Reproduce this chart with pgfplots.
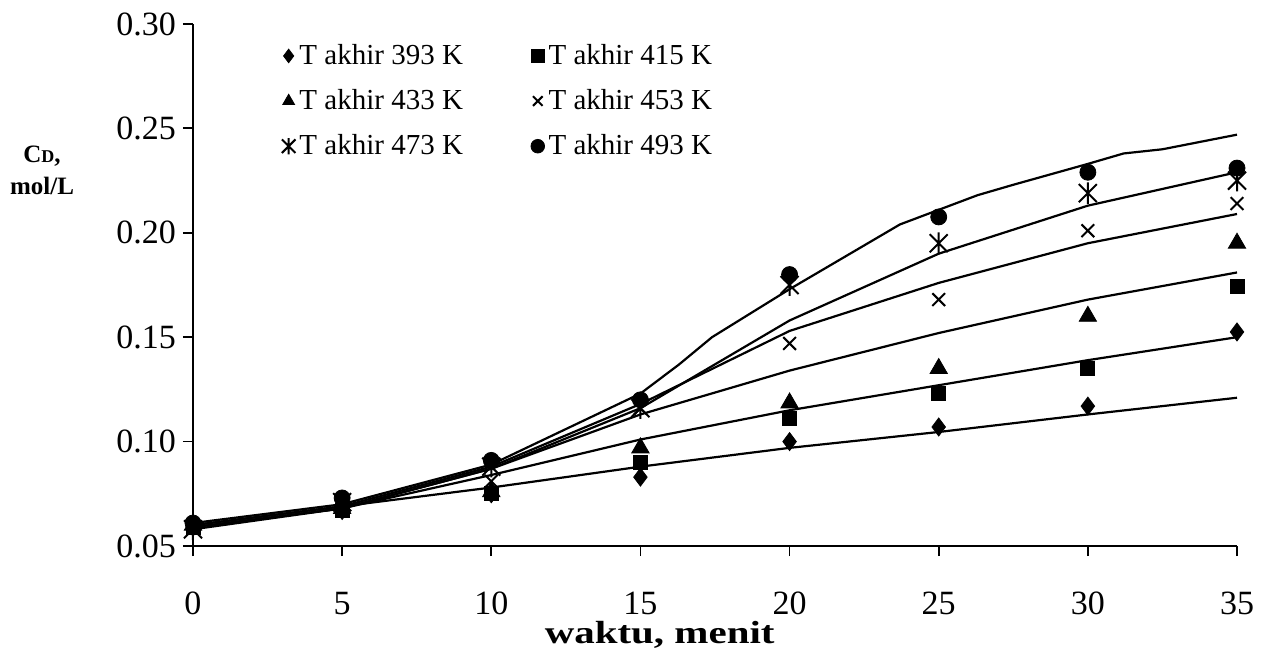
\documentclass[border=0pt]{standalone}
\usepackage{fontspec}
\setmainfont{Liberation Serif}
\usepackage{graphicx}
\usepackage{pgfplots}
\pgfplotsset{compat=1.18}
\pgfdeclareplotmark{xstar}{%
  \pgfpathmoveto{\pgfpoint{-\pgfplotmarksize}{-\pgfplotmarksize}}%
  \pgfpathlineto{\pgfpoint{\pgfplotmarksize}{\pgfplotmarksize}}%
  \pgfpathmoveto{\pgfpoint{-\pgfplotmarksize}{\pgfplotmarksize}}%
  \pgfpathlineto{\pgfpoint{\pgfplotmarksize}{-\pgfplotmarksize}}%
  \pgfpathmoveto{\pgfpoint{0pt}{-1.2\pgfplotmarksize}}%
  \pgfpathlineto{\pgfpoint{0pt}{1.2\pgfplotmarksize}}%
  \pgfusepathqstroke}
\begin{document}
\begin{tikzpicture}
\useasboundingbox (-96.5pt,-53pt) rectangle (535pt,273pt);
\begin{axis}[
  at={(0,0)}, anchor=south west,
  scale only axis, width=522pt, height=261pt,
  xmin=0, xmax=35, ymin=0.05, ymax=0.30,
  axis lines=left, axis line style={line width=1.1pt, -},
  xtick={0,5,...,35}, ytick={0.05,0.10,...,0.31},
  tick align=outside, major tick length=5pt,
  tick style={line width=0.9pt, black},
  clip=false,
  /pgf/number format/assume math mode=true,
  ticklabel style={font=\fontsize{17}{17}\selectfont},
  yticklabel style={/pgf/number format/.cd, fixed, fixed zerofill, precision=2},
  xticklabel style={yshift=-14.5pt},
  xlabel={\scalebox{1.28}[1]{\bfseries waktu, menit}},
  xlabel style={at={(axis description cs:0.447,0)}, anchor=center, yshift=-44.5pt, font=\fontsize{16}{16}\selectfont},
  legend columns=2,
  legend style={draw=none, fill=none, at={(axis description cs:0.079,0.977)}, anchor=north west,
    font=\fontsize{14.5}{14.5}\selectfont, row sep=7pt,
    /tikz/every even column/.append style={column sep=32pt}},
  legend image post style={mark size=3.4pt},
  legend cell align=left,
]
% data points
\addplot[only marks, mark=diamond*, mark size=4.5pt] coordinates {(0,0.059)(5,0.067)(10,0.075)(15,0.083)(20,0.100)(25,0.107)(30,0.117)(35,0.1525)};
\addlegendentry{T akhir 393 K}
\addplot[only marks, mark=square*, mark size=3.5pt] coordinates {(0,0.059)(5,0.067)(10,0.075)(15,0.090)(20,0.111)(25,0.123)(30,0.135)(35,0.1745)};
\addlegendentry{T akhir 415 K}
\addplot[only marks, mark=triangle*, mark size=5pt] coordinates {(0,0.060)(5,0.068)(10,0.076)(15,0.097)(20,0.1185)(25,0.135)(30,0.160)(35,0.195)};
\addlegendentry{T akhir 433 K}
\addplot[only marks, mark=x, mark size=4.5pt, mark options={line width=1pt}] coordinates {(0,0.060)(5,0.069)(10,0.081)(15,0.116)(20,0.147)(25,0.168)(30,0.201)(35,0.214)};
\addlegendentry{T akhir 453 K}
\addplot[only marks, mark=xstar, mark size=4.5pt, mark options={line width=1pt}] coordinates {(0,0.058)(5,0.071)(10,0.088)(15,0.116)(20,0.175)(25,0.195)(30,0.219)(35,0.225)};
\addlegendentry{T akhir 473 K}
\addplot[only marks, mark=*, mark size=4pt] coordinates {(0,0.061)(5,0.073)(10,0.091)(15,0.120)(20,0.180)(25,0.2076)(30,0.229)(35,0.231)};
\addlegendentry{T akhir 493 K}
% model curves
\addplot[no marks, line width=1.1pt, forget plot] coordinates {(0,0.060)(5,0.069)(10,0.078)(15,0.088)(20,0.097)(25,0.1046)(30,0.113)(35,0.121)};
\addplot[no marks, line width=1.1pt, forget plot] coordinates {(0,0.059)(5,0.068)(10,0.084)(15,0.101)(20,0.115)(25,0.127)(30,0.139)(35,0.150)};
\addplot[no marks, line width=1.1pt, forget plot] coordinates {(0,0.059)(5,0.068)(10,0.087)(15,0.113)(20,0.134)(25,0.152)(30,0.168)(35,0.181)};
\addplot[no marks, line width=1.1pt, forget plot] coordinates {(0,0.060)(5,0.069)(10,0.088)(15,0.118)(20,0.153)(25,0.176)(30,0.195)(35,0.209)};
\addplot[no marks, line width=1.1pt, forget plot] coordinates {(0,0.058)(5,0.068)(10,0.087)(15,0.116)(20,0.158)(25,0.190)(30,0.213)(35,0.229)};
\addplot[no marks, line width=1.1pt, forget plot] coordinates {(0,0.061)(5,0.070)(10,0.089)(15,0.123)(16.3,0.137)(17.4,0.150)(20,0.173)(23.7,0.204)(25,0.211)(26.3,0.218)(27.5,0.223)(30,0.233)(31.2,0.238)(32.5,0.240)(35,0.247)};
\end{axis}
\node[align=center, font=\bfseries\fontsize{12.5}{16}\selectfont] at (-75.5pt,188pt) {C{\fontsize{9}{9}\selectfont D},\\mol/L};
\end{tikzpicture}
\end{document}
